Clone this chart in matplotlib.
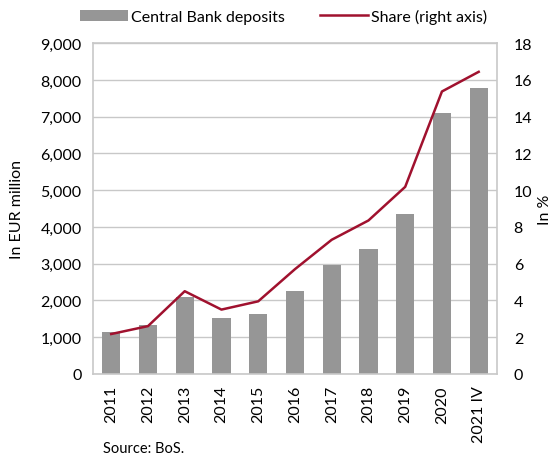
import matplotlib
matplotlib.use("Agg")
import matplotlib.pyplot as plt
from matplotlib.ticker import FuncFormatter, MultipleLocator

plt.rcParams['font.family'] = ['Lato', 'DejaVu Sans']

categories = ["2011", "2012", "2013", "2014", "2015", "2016", "2017",
              "2018", "2019", "2020", "2021 IV"]
deposits = [1140, 1330, 2090, 1520, 1630, 2255, 2950, 3400, 4350, 7090, 7780]
share = [2.17, 2.6, 4.5, 3.5, 3.95, 5.7, 7.3, 8.35, 10.18, 15.37, 16.44]

bar_color = "#969696"
line_color = "#A0112E"
grid_color = "#C8C8C8"
fs = 11.5

fig = plt.figure(figsize=(5.56, 4.6), dpi=100)
ax = fig.add_axes([0.167, 0.185, 0.727, 0.719])
x = range(len(categories))
bars = ax.bar(x, deposits, width=0.5, color=bar_color, zorder=2,
              label="Central Bank deposits")
ax.set_xlim(-0.5, len(categories) - 0.5)
ax.set_ylim(0, 9000)
ax.yaxis.set_major_locator(MultipleLocator(1000))
ax.yaxis.set_major_formatter(FuncFormatter(lambda v, p: f"{int(v):,}"))
ax.grid(axis="y", color=grid_color, linewidth=1, zorder=0)
ax.set_xticks(list(x))
ax.set_xticklabels(categories, rotation=90, fontsize=fs)
ax.tick_params(axis="both", length=0, labelsize=fs, pad=8)
for s in ax.spines.values():
    s.set_color(grid_color)
    s.set_linewidth(1.2)
ax.set_ylabel("In EUR million", fontsize=fs, labelpad=12)

ax2 = ax.twinx()
line, = ax2.plot(x, share, color=line_color, linewidth=1.8, zorder=3,
                 label="Share (right axis)")
ax2.set_ylim(0, 18)
ax2.yaxis.set_major_locator(MultipleLocator(2))
ax2.tick_params(axis="y", length=0, labelsize=fs, pad=12)
for s in ax2.spines.values():
    s.set_visible(False)
ax2.set_ylabel("In %", fontsize=fs, labelpad=4)

fig.legend([bars, line], ["Central Bank deposits", "Share (right axis)"],
           loc="upper center", bbox_to_anchor=(0.51, 1.01), ncol=2,
           frameon=False, fontsize=fs, handlelength=3.0, handletextpad=0.2,
           columnspacing=2.2)

fig.text(0.185, 0.015, "Source: BoS.", fontsize=10.5)

fig.savefig("out.png", dpi=100)
